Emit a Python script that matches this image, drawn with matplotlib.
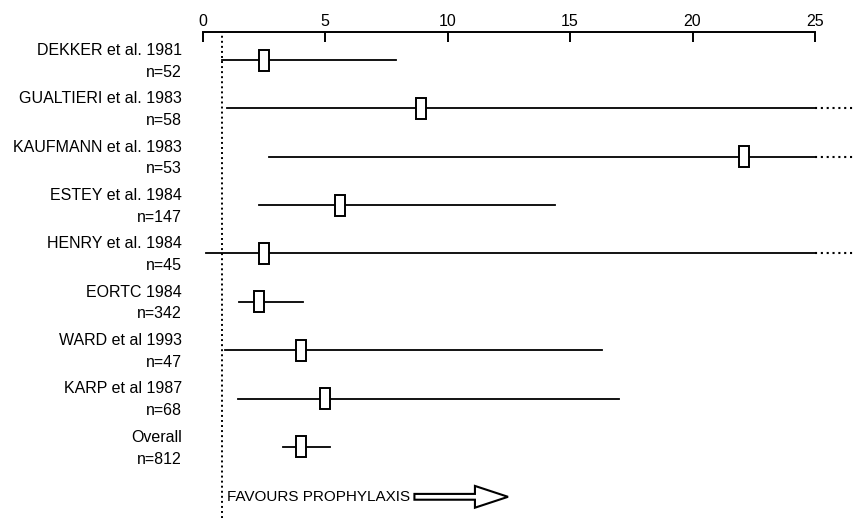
import matplotlib.pyplot as plt
from matplotlib.patches import Rectangle, FancyArrow

plt.rcParams['font.family'] = ['Liberation Sans', 'DejaVu Sans']

# study names, sizes, point estimates and interval ends
studies = ["DEKKER et al. 1981", "GUALTIERI et al. 1983", "KAUFMANN et al. 1983",
           "ESTEY et al. 1984", "HENRY et al. 1984", "EORTC 1984",
           "WARD et al 1993", "KARP et al 1987", "Overall"]
n_pat = [52, 58, 53, 147, 45, 342, 47, 68, 812]
est = [2.5, 8.9, 22.1, 5.6, 2.5, 2.3, 4.0, 5.0, 4.0]
lo = [0.8, 1.0, 2.7, 2.3, 0.15, 1.5, 0.9, 1.45, 3.3]
hi = [7.9, 25, 25, 14.4, 25, 4.1, 16.3, 17.0, 5.2]
open_end = [False, True, True, False, True, False, False, False, False]
ref_line = 0.8
xticks = [0, 5, 10, 15, 20, 25]

fs = 11.5

fig = plt.figure(figsize=(8.56, 5.18), dpi=100)
ax = fig.add_axes([202.5 / 856, 0, (815 - 202.5) / 856, 1 - 32 / 518])
ax.set_xlim(0, 25)
ax.set_ylim(9.468, -0.579)

for s in ['left', 'right', 'bottom']:
    ax.spines[s].set_visible(False)
ax.spines['top'].set_linewidth(1.4)
ax.xaxis.tick_top()
ax.set_xticks(xticks)
ax.tick_params(axis='x', direction='in', length=7.5, width=1.4, labelsize=fs, pad=2)
ax.set_yticks([])

ax.axvline(ref_line, color='black', lw=1.4, ls=(0, (1, 1.6)))

bw = 10 / 24.5
bh = 21 / 48.375
for i in range(len(studies)):
    ax.plot([lo[i], hi[i]], [i, i], color='black', lw=1.3, zorder=2)
    if open_end[i]:
        ax.plot([hi[i], 26.55], [i, i], color='black', lw=1.5, ls=(0, (1, 1.8)),
                clip_on=False)
    ax.add_patch(Rectangle((est[i] - bw / 2, i - bh / 2), bw, bh, facecolor='white',
                           edgecolor='black', lw=1.4, zorder=3))
    ax.text(-0.84, i - 0.2, studies[i], ha='right', va='center', fontsize=fs,
            clip_on=False)
    ax.text(-0.84, i + 0.25, "n=%d" % n_pat[i], ha='right', va='center', fontsize=fs,
            clip_on=False)

ax.text(1.0, 9.03, "FAVOURS PROPHYLAXIS", ha='left', va='center', fontsize=11)
ax.add_patch(FancyArrow(8.65, 9.03, 3.82, 0, width=0.12, head_width=0.45,
                        head_length=1.35, length_includes_head=True,
                        facecolor='white', edgecolor='black', lw=1.5,
                        clip_on=False, zorder=4))

fig.savefig("out.png", dpi=100)
